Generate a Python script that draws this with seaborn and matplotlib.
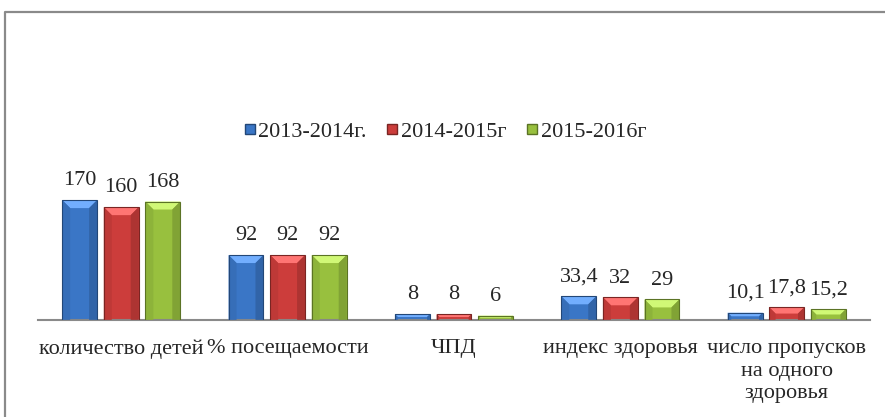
import seaborn as sns
import numpy as np
import pandas as pd
import matplotlib.pyplot as plt
from matplotlib.patches import Polygon
from matplotlib.lines import Line2D
import matplotlib.colors as mcolors

categories = ["количество детей", "% посещаемости", "ЧПД", "индекс здоровья",
              "число пропусков\nна одного\nздоровья"]
years = ["2013-2014г.", "2014-2015г", "2015-2016г"]
v_2013 = [170, 92, 8, 33.4, 10.1]
v_2014 = [160, 92, 8, 32, 17.8]
v_2015 = [168, 92, 6, 29, 15.2]
colors = ["#3a76c6", "#cc3d3b", "#98c03e"]

rows = []
for yr, vals in zip(years, [v_2013, v_2014, v_2015]):
    for c, v in zip(categories, vals):
        rows.append({"cat": c, "year": yr, "val": v})
df = pd.DataFrame(rows)

sns.set_style("white")
plt.rcParams['font.family'] = ['Liberation Serif', 'DejaVu Serif']

fig = plt.figure(figsize=(8.85, 4.17), dpi=100)
ax = fig.add_axes([0.043, 0.233, 0.940, 0.527])

sns.barplot(data=df, x="cat", y="val", hue="year", palette=colors,
            width=0.75, gap=0.16, order=categories, hue_order=years,
            edgecolor="none", legend=False, ax=ax)

ax.set_ylim(0, 312)
ax.set_xlim(-0.5, 4.5)
ax.set_xlabel("")
ax.set_ylabel("")
ax.set_yticks([])
for s in ["top", "right", "left"]:
    ax.spines[s].set_visible(False)
ax.spines["bottom"].set_color("#8a8a8a")
ax.spines["bottom"].set_linewidth(1.5)
ax.tick_params(axis="x", length=0, pad=14, labelsize=16)
for t in ax.get_xticklabels():
    t.set_linespacing(1.25)
    t.set_va("top")

for cont in ax.containers:
    labs = [f"{v:g}".replace(".", ",") for v in cont.datavalues]
    ax.bar_label(cont, labels=labs, padding=7, fontsize=16)

# bevel look on each bar, built from the bar geometry
fig.canvas.draw()
inv = ax.transData.inverted()
for cont, col in zip(ax.containers, colors):
    base = np.array(mcolors.to_rgb(col))
    light = np.clip(base + 0.22, 0, 1)
    dark = base * 0.6
    for p in cont.patches:
        bb = p.get_window_extent()
        d = min(8, bb.height / 2)
        x0, x1, y0, y1 = bb.x0, bb.x1, bb.y0, bb.y1
        top = [(x0, y1), (x1, y1), (x1 - d, y1 - d), (x0 + d, y1 - d)]
        left = [(x0, y0), (x0, y1), (x0 + d, y1 - d), (x0 + d, y0)]
        right = [(x1, y0), (x1, y1), (x1 - d, y1 - d), (x1 - d, y0)]
        for pts, c in [(top, light), (left, base * 0.93), (right, base * 0.85)]:
            ax.add_patch(Polygon(inv.transform(pts), closed=True,
                                 facecolor=c, edgecolor="none", zorder=3))
        p.set_edgecolor(dark)
        p.set_linewidth(0.8)
        p.set_zorder(4)
        p.set_facecolor("none")
        ax.add_patch(Polygon(inv.transform([(x0, y0), (x0, y1), (x1, y1), (x1, y0)]),
                             closed=True, facecolor=base, edgecolor="none", zorder=2))

handles = [Line2D([], [], marker="s", linestyle="", markersize=7,
                  markerfacecolor=c, markeredgecolor=mcolors.to_rgb(c) * np.array(0.6))
           for c in colors]
fig.legend(handles, years, loc="center", bbox_to_anchor=(0.502, 0.685), ncol=3,
           frameon=False, fontsize=16, handletextpad=0.05, columnspacing=0.8,
           handlelength=0.7)

# outer frame (left and top edges visible)
fig.add_artist(Line2D([5 / 885, 5 / 885, 1.0], [0.0, 1 - 12 / 417, 1 - 12 / 417],
                      transform=fig.transFigure, color="#8a8a8a", linewidth=1.6))

fig.savefig("out.png", dpi=100)
